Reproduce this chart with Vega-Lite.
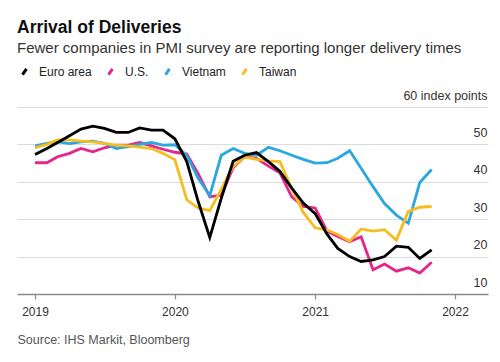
{
  "$schema": "https://vega.github.io/schema/vega-lite/v6.json",
  "width": 471,
  "height": 187,
  "autosize": "none",
  "padding": {"left": 17, "top": 107, "right": 12, "bottom": 68},
  "background": "white",
  "title": {
    "text": "Arrival of Deliveries",
    "subtitle": "Fewer companies in PMI survey are reporting longer delivery times",
    "anchor": "start",
    "frame": "group",
    "offset": 8,
    "font": "Liberation Sans",
    "fontSize": 17.5,
    "fontWeight": "bold",
    "color": "#111111",
    "subtitleFont": "Liberation Sans",
    "subtitleFontSize": 15,
    "subtitleColor": "#333333",
    "subtitlePadding": 5
  },
  "data": {
    "format": {"parse": {"date": "date:'%Y-%m-%d'"}},
    "values": [
      {"date":"2019-01-01","series":"U.S.","value":45.1},
      {"date":"2019-02-01","series":"U.S.","value":45.1},
      {"date":"2019-03-01","series":"U.S.","value":46.7},
      {"date":"2019-04-01","series":"U.S.","value":47.6},
      {"date":"2019-05-01","series":"U.S.","value":48.9},
      {"date":"2019-06-01","series":"U.S.","value":48.0},
      {"date":"2019-07-01","series":"U.S.","value":49.1},
      {"date":"2019-08-01","series":"U.S.","value":49.8},
      {"date":"2019-09-01","series":"U.S.","value":49.8},
      {"date":"2019-10-01","series":"U.S.","value":50.5},
      {"date":"2019-11-01","series":"U.S.","value":49.6},
      {"date":"2019-12-01","series":"U.S.","value":48.7},
      {"date":"2020-01-01","series":"U.S.","value":47.9},
      {"date":"2020-02-01","series":"U.S.","value":47.4},
      {"date":"2020-03-01","series":"U.S.","value":42.3},
      {"date":"2020-04-01","series":"U.S.","value":36.0},
      {"date":"2020-05-01","series":"U.S.","value":36.4},
      {"date":"2020-06-01","series":"U.S.","value":43.8},
      {"date":"2020-07-01","series":"U.S.","value":46.7},
      {"date":"2020-08-01","series":"U.S.","value":46.3},
      {"date":"2020-09-01","series":"U.S.","value":44.2},
      {"date":"2020-10-01","series":"U.S.","value":42.4},
      {"date":"2020-11-01","series":"U.S.","value":36.0},
      {"date":"2020-12-01","series":"U.S.","value":33.4},
      {"date":"2021-01-01","series":"U.S.","value":33.0},
      {"date":"2021-02-01","series":"U.S.","value":26.8},
      {"date":"2021-03-01","series":"U.S.","value":25.4},
      {"date":"2021-04-01","series":"U.S.","value":24.0},
      {"date":"2021-05-01","series":"U.S.","value":25.3},
      {"date":"2021-06-01","series":"U.S.","value":16.5},
      {"date":"2021-07-01","series":"U.S.","value":18.0},
      {"date":"2021-08-01","series":"U.S.","value":16.1},
      {"date":"2021-09-01","series":"U.S.","value":17.0},
      {"date":"2021-10-01","series":"U.S.","value":15.6},
      {"date":"2021-11-01","series":"U.S.","value":18.5},
      {"date":"2019-01-01","series":"Vietnam","value":49.6},
      {"date":"2019-02-01","series":"Vietnam","value":50.3},
      {"date":"2019-03-01","series":"Vietnam","value":50.7},
      {"date":"2019-04-01","series":"Vietnam","value":50.2},
      {"date":"2019-05-01","series":"Vietnam","value":50.7},
      {"date":"2019-06-01","series":"Vietnam","value":50.9},
      {"date":"2019-07-01","series":"Vietnam","value":50.3},
      {"date":"2019-08-01","series":"Vietnam","value":48.9},
      {"date":"2019-09-01","series":"Vietnam","value":49.4},
      {"date":"2019-10-01","series":"Vietnam","value":50.0},
      {"date":"2019-11-01","series":"Vietnam","value":50.5},
      {"date":"2019-12-01","series":"Vietnam","value":49.8},
      {"date":"2020-01-01","series":"Vietnam","value":49.9},
      {"date":"2020-02-01","series":"Vietnam","value":47.1},
      {"date":"2020-03-01","series":"Vietnam","value":41.1},
      {"date":"2020-04-01","series":"Vietnam","value":36.3},
      {"date":"2020-05-01","series":"Vietnam","value":47.1},
      {"date":"2020-06-01","series":"Vietnam","value":48.9},
      {"date":"2020-07-01","series":"Vietnam","value":47.6},
      {"date":"2020-08-01","series":"Vietnam","value":47.1},
      {"date":"2020-09-01","series":"Vietnam","value":49.2},
      {"date":"2020-10-01","series":"Vietnam","value":48.3},
      {"date":"2020-11-01","series":"Vietnam","value":47.1},
      {"date":"2020-12-01","series":"Vietnam","value":46.0},
      {"date":"2021-01-01","series":"Vietnam","value":45.0},
      {"date":"2021-02-01","series":"Vietnam","value":45.1},
      {"date":"2021-03-01","series":"Vietnam","value":46.3},
      {"date":"2021-04-01","series":"Vietnam","value":48.3},
      {"date":"2021-05-01","series":"Vietnam","value":43.6},
      {"date":"2021-06-01","series":"Vietnam","value":38.7},
      {"date":"2021-07-01","series":"Vietnam","value":34.2},
      {"date":"2021-08-01","series":"Vietnam","value":31.1},
      {"date":"2021-09-01","series":"Vietnam","value":28.9},
      {"date":"2021-10-01","series":"Vietnam","value":39.8},
      {"date":"2021-11-01","series":"Vietnam","value":43.3},
      {"date":"2019-01-01","series":"Taiwan","value":49.1},
      {"date":"2019-02-01","series":"Taiwan","value":50.0},
      {"date":"2019-03-01","series":"Taiwan","value":51.2},
      {"date":"2019-04-01","series":"Taiwan","value":51.2},
      {"date":"2019-05-01","series":"Taiwan","value":50.9},
      {"date":"2019-06-01","series":"Taiwan","value":50.7},
      {"date":"2019-07-01","series":"Taiwan","value":50.3},
      {"date":"2019-08-01","series":"Taiwan","value":49.8},
      {"date":"2019-09-01","series":"Taiwan","value":49.6},
      {"date":"2019-10-01","series":"Taiwan","value":49.3},
      {"date":"2019-11-01","series":"Taiwan","value":48.9},
      {"date":"2019-12-01","series":"Taiwan","value":47.6},
      {"date":"2020-01-01","series":"Taiwan","value":45.9},
      {"date":"2020-02-01","series":"Taiwan","value":35.2},
      {"date":"2020-03-01","series":"Taiwan","value":33.0},
      {"date":"2020-04-01","series":"Taiwan","value":32.3},
      {"date":"2020-05-01","series":"Taiwan","value":38.0},
      {"date":"2020-06-01","series":"Taiwan","value":44.2},
      {"date":"2020-07-01","series":"Taiwan","value":46.6},
      {"date":"2020-08-01","series":"Taiwan","value":46.0},
      {"date":"2020-09-01","series":"Taiwan","value":45.6},
      {"date":"2020-10-01","series":"Taiwan","value":45.4},
      {"date":"2020-11-01","series":"Taiwan","value":38.2},
      {"date":"2020-12-01","series":"Taiwan","value":31.8},
      {"date":"2021-01-01","series":"Taiwan","value":27.7},
      {"date":"2021-02-01","series":"Taiwan","value":27.1},
      {"date":"2021-03-01","series":"Taiwan","value":25.9},
      {"date":"2021-04-01","series":"Taiwan","value":24.1},
      {"date":"2021-05-01","series":"Taiwan","value":27.4},
      {"date":"2021-06-01","series":"Taiwan","value":26.8},
      {"date":"2021-07-01","series":"Taiwan","value":27.2},
      {"date":"2021-08-01","series":"Taiwan","value":24.4},
      {"date":"2021-09-01","series":"Taiwan","value":32.1},
      {"date":"2021-10-01","series":"Taiwan","value":33.2},
      {"date":"2021-11-01","series":"Taiwan","value":33.4},
      {"date":"2019-01-01","series":"Euro area","value":47.3},
      {"date":"2019-02-01","series":"Euro area","value":48.9},
      {"date":"2019-03-01","series":"Euro area","value":50.5},
      {"date":"2019-04-01","series":"Euro area","value":52.3},
      {"date":"2019-05-01","series":"Euro area","value":54.1},
      {"date":"2019-06-01","series":"Euro area","value":54.9},
      {"date":"2019-07-01","series":"Euro area","value":54.3},
      {"date":"2019-08-01","series":"Euro area","value":53.2},
      {"date":"2019-09-01","series":"Euro area","value":53.2},
      {"date":"2019-10-01","series":"Euro area","value":54.4},
      {"date":"2019-11-01","series":"Euro area","value":53.8},
      {"date":"2019-12-01","series":"Euro area","value":53.8},
      {"date":"2020-01-01","series":"Euro area","value":51.5},
      {"date":"2020-02-01","series":"Euro area","value":45.4},
      {"date":"2020-03-01","series":"Euro area","value":35.0},
      {"date":"2020-04-01","series":"Euro area","value":25.1},
      {"date":"2020-05-01","series":"Euro area","value":35.6},
      {"date":"2020-06-01","series":"Euro area","value":45.5},
      {"date":"2020-07-01","series":"Euro area","value":47.1},
      {"date":"2020-08-01","series":"Euro area","value":47.8},
      {"date":"2020-09-01","series":"Euro area","value":45.4},
      {"date":"2020-10-01","series":"Euro area","value":42.8},
      {"date":"2020-11-01","series":"Euro area","value":38.3},
      {"date":"2020-12-01","series":"Euro area","value":34.3},
      {"date":"2021-01-01","series":"Euro area","value":31.5},
      {"date":"2021-02-01","series":"Euro area","value":26.0},
      {"date":"2021-03-01","series":"Euro area","value":22.2},
      {"date":"2021-04-01","series":"Euro area","value":20.0},
      {"date":"2021-05-01","series":"Euro area","value":18.7},
      {"date":"2021-06-01","series":"Euro area","value":19.1},
      {"date":"2021-07-01","series":"Euro area","value":20.0},
      {"date":"2021-08-01","series":"Euro area","value":22.8},
      {"date":"2021-09-01","series":"Euro area","value":22.5},
      {"date":"2021-10-01","series":"Euro area","value":19.5},
      {"date":"2021-11-01","series":"Euro area","value":21.8}
    ]
  },
  "mark": {"type": "line", "strokeWidth": 2.8, "strokeJoin": "miter"},
  "encoding": {
    "x": {
      "field": "date",
      "type": "temporal",
      "scale": {
        "domain": [
          {"year": 2018, "month": 11, "date": 15},
          {"year": 2022, "month": 3, "date": 28}
        ],
        "nice": false
      },
      "axis": {
        "values": [
          {"year": 2019, "month": 1, "date": 1},
          {"year": 2020, "month": 1, "date": 1},
          {"year": 2021, "month": 1, "date": 1},
          {"year": 2022, "month": 1, "date": 1}
        ],
        "format": "%Y",
        "grid": false,
        "domain": true,
        "domainColor": "#8a8a8a",
        "domainWidth": 1.5,
        "ticks": true,
        "tickColor": "#8a8a8a",
        "tickSize": 5,
        "tickWidth": 1.2,
        "labelFont": "Liberation Sans",
        "labelFontSize": 12,
        "labelColor": "#333333",
        "labelPadding": 7,
        "title": "Source: IHS Markit, Bloomberg",
        "titleFont": "Liberation Sans",
        "titleFontSize": 12.5,
        "titleFontWeight": "normal",
        "titleColor": "#555555",
        "titleAnchor": "start",
        "titleAlign": "left",
        "titleBaseline": "alphabetic",
        "titleX": 0,
        "titleY": 49
      }
    },
    "y": {
      "field": "value",
      "type": "quantitative",
      "scale": {"domain": [10, 60], "nice": false, "zero": false},
      "axis": {
        "orient": "right",
        "values": [10, 20, 30, 40, 50, 60],
        "labelExpr": "datum.value == 60 ? '60 index points' : datum.label",
        "domain": false,
        "ticks": false,
        "tickSize": 0,
        "grid": true,
        "gridColor": "#dcdcdc",
        "gridWidth": 1,
        "labelAlign": "right",
        "labelBaseline": "alphabetic",
        "labelOffset": -8,
        "labelPadding": -1,
        "labelFont": "Liberation Sans",
        "labelFontSize": 12.5,
        "labelColor": "#333333",
        "title": null
      }
    },
    "color": {
      "field": "series",
      "type": "nominal",
      "scale": {
        "domain": ["Euro area", "U.S.", "Vietnam", "Taiwan"],
        "range": ["#000000", "#e6258c", "#2aa7df", "#f5bd20"]
      },
      "legend": {
        "title": null,
        "orient": "none",
        "legendX": 0,
        "legendY": -43,
        "direction": "horizontal",
        "symbolType": "M-0.35,0.5L0.35,-0.5",
        "symbolSize": 130,
        "symbolStrokeWidth": 3,
        "labelFont": "Liberation Sans",
        "labelFontSize": 12,
        "labelColor": "#222222",
        "labelOffset": 7,
        "columnPadding": 10,
        "padding": 0
      }
    }
  },
  "config": {"view": {"stroke": null}}
}
